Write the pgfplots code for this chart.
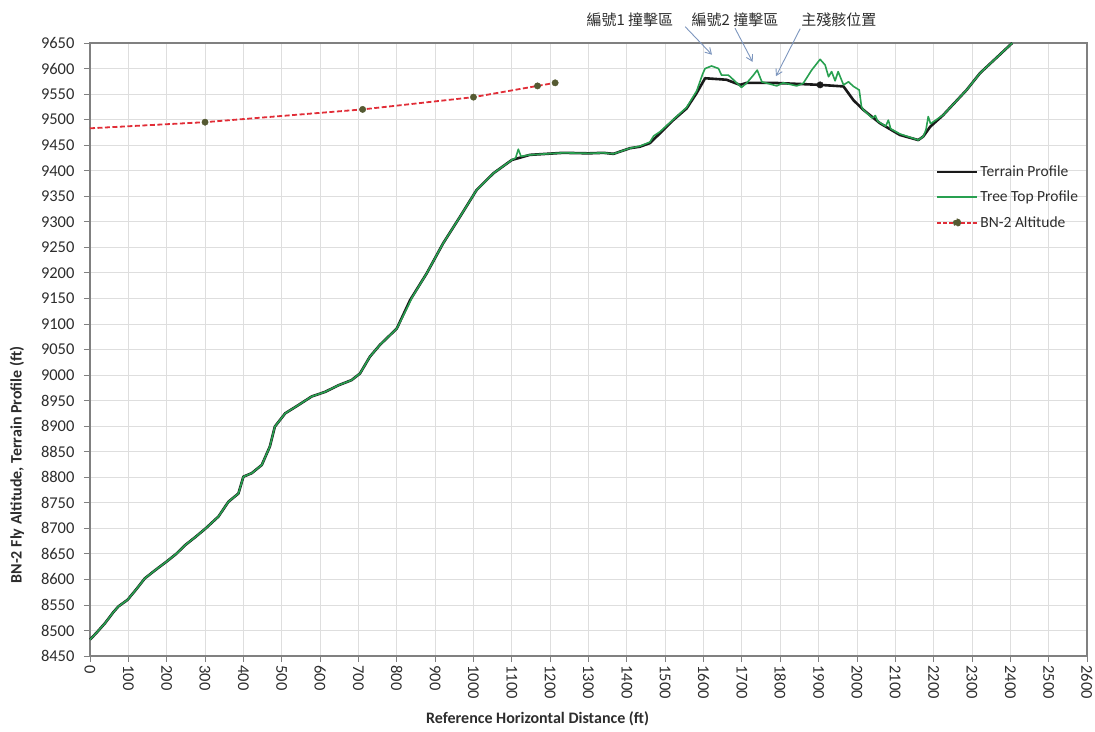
\documentclass[border=0pt]{standalone}
\usepackage{pgfplots}
\pgfplotsset{compat=1.18}
\usepackage{fontspec}
\setmainfont{Carlito}
\newfontfamily\cjk{Noto Sans CJK TC}
\usetikzlibrary{arrows.meta}
\definecolor{terr}{RGB}{25,25,25}
\definecolor{tree}{RGB}{40,160,80}
\definecolor{bnred}{RGB}{225,45,55}
\definecolor{bnmark}{RGB}{85,90,50}
\definecolor{gridc}{RGB}{222,222,222}
\definecolor{frame}{RGB}{128,128,128}
\definecolor{arr}{RGB}{125,150,190}
\definecolor{txt}{RGB}{45,45,45}

\pgfplotstableread{
x y
0 8482
20 8498
40 8515
60 8535
74 8547
98 8560
120 8580
143 8602
170 8618
200 8635
225 8650
248 8667
275 8683
302 8700
335 8723
361 8752
387 8768
400 8801
422 8808
448 8824
469 8860
482 8899
509 8925
543 8941
578 8958
613 8967
648 8980
682 8990
704 9003
730 9036
756 9059
800 9091
835 9147
878 9199
921 9258
965 9310
1008 9362
1052 9395
1100 9421
1147 9431
1234 9435
1300 9434
1339 9435
1365 9433
1408 9444
1434 9447
1460 9454
1486 9473
1521 9499
1556 9522
1582 9552
1604 9581
1643 9579
1660 9578
1695 9568
1713 9572
1782 9572
1904 9568
1965 9565
1991 9538
2017 9519
2060 9493
2112 9470
2160 9460
2173 9467
2191 9486
2225 9509
2286 9558
2321 9591
2405 9650
}\terrain

\pgfplotstableread{
x y
0 8482
20 8498
40 8515
60 8535
74 8547
98 8560
120 8580
143 8602
170 8618
200 8635
225 8650
248 8667
275 8683
302 8700
335 8723
361 8752
387 8768
400 8801
422 8808
448 8824
469 8860
482 8899
509 8925
543 8941
578 8958
613 8967
648 8980
682 8990
704 9003
730 9036
756 9059
800 9091
830 9136
840 9152
878 9199
921 9258
965 9310
1008 9362
1052 9395
1100 9421
1110 9425
1117 9442
1124 9428
1147 9431
1234 9435
1300 9434
1339 9435
1365 9433
1408 9444
1434 9448
1460 9456
1470 9468
1486 9476
1521 9500
1556 9524
1582 9556
1598 9590
1604 9600
1621 9605
1639 9600
1647 9587
1665 9587
1678 9578
1699 9563
1713 9572
1730 9587
1740 9597
1752 9574
1791 9566
1808 9572
1843 9566
1860 9571
1882 9597
1904 9618
1917 9607
1926 9584
1934 9594
1943 9576
1951 9594
1965 9568
1978 9574
1991 9565
2006 9558
2012 9525
2017 9519
2040 9503
2048 9508
2054 9497
2075 9487
2082 9499
2088 9482
2112 9472
2160 9460
2173 9467
2180 9480
2186 9506
2192 9492
2225 9509
2286 9558
2321 9591
2405 9650
}\treetop

\pgfplotstableread{
x y
0 9483
300 9495
711 9520
1000 9544
1167 9566
1213 9572
}\bnalt

\pgfplotstableread{
x y
300 9495
711 9520
1000 9544
1167 9566
1213 9572
}\bnpts

\begin{document}
\begin{tikzpicture}
\begin{axis}[
  at={(0,0)}, anchor=south west,
  scale only axis, width=997pt, height=613pt,
  xmin=0, xmax=2600, ymin=8450, ymax=9650,
  xtick distance=100, ytick distance=50,
  grid=major,
  major grid style={gridc, line width=0.8pt},
  axis line style={frame, line width=1.6pt},
  tick align=outside, major tick length=6pt,
  tick style={frame, line width=0.8pt},
  xtick pos=bottom, ytick pos=left,
  clip=false,
  /pgf/number format/assume math mode=true,
  /pgf/number format/1000 sep={},
  ticklabel style={font=\fontsize{16.5}{18}\selectfont, text=txt},
  xticklabel style={rotate=-90, anchor=west},
  yticklabel style={xshift=-6pt},
  xlabel={Reference Horizontal Distance (ft)},
  ylabel={BN-2 Fly Altitude, Terrain Profile (ft)},
  every axis x label/.style={at={(axis description cs:0.449,-0.1028)}, anchor=center, font=\bfseries\fontsize{16}{18}\selectfont, text=txt},
  every axis y label/.style={at={(axis description cs:-0.0732,0.3116)}, rotate=90, anchor=center, font=\bfseries\fontsize{16}{18}\selectfont, text=txt},
  legend style={at={(axis description cs:0.848,0.803)}, anchor=north west, draw=none, fill=none,
    font=\fontsize{15.5}{17}\selectfont, text=txt, row sep=9pt, inner sep=0pt},
  legend cell align=left,
]
\addplot[terr, line width=2.6pt, line join=round,
  legend image code/.code={\draw[terr, line width=2.8pt] (0pt,0pt) -- (40pt,0pt);}]
  table[x=x,y=y]{\terrain};
\addlegendentry{Terrain Profile}
\addplot[tree, line width=1.6pt, line join=round,
  legend image code/.code={\draw[draw=tree, line width=2.2pt] (0pt,0.5pt) -- (40pt,0.5pt);}]
  table[x=x,y=y]{\treetop};
\addlegendentry{Tree Top Profile}
\addplot[bnred, line width=1.8pt, dash pattern=on 5pt off 2.5pt,
  legend image code/.code={\draw[bnred, line width=1.8pt, dash pattern=on 4pt off 2pt] (0pt,0pt) -- (40pt,0pt); \fill[bnmark] (20pt,0pt) circle (3.2pt);}]
  table[x=x,y=y]{\bnalt};
\addlegendentry{BN-2 Altitude}
\addplot[only marks, mark=*, mark options={fill=bnmark, draw=bnmark, scale=1.6}, forget plot] table[x=x,y=y]{\bnpts};
\addplot[only marks, mark=*, mark options={fill=terr, draw=terr, scale=1.6}, forget plot]
  coordinates {(1904,9568)};
\node[font=\cjk\fontsize{15}{16}\selectfont, text=txt, anchor=center] at (axis cs:1408,9695) {編號1 撞擊區};
\node[font=\cjk\fontsize{15}{16}\selectfont, text=txt, anchor=center] at (axis cs:1682,9695) {編號2 撞擊區};
\node[font=\cjk\fontsize{15}{16}\selectfont, text=txt, anchor=center] at (axis cs:1953,9695) {主殘骸位置};
\draw[arr, line width=0.9pt, -{Straight Barb[length=6pt,width=7pt]}] (axis cs:1552,9682) -- (axis cs:1622,9627);
\draw[arr, line width=0.9pt, -{Straight Barb[length=6pt,width=7pt]}] (axis cs:1682,9679) -- (axis cs:1728,9613);
\draw[arr, line width=0.9pt, -{Straight Barb[length=6pt,width=7pt]}] (axis cs:1852,9678) -- (axis cs:1789,9585);
\end{axis}
\pgfresetboundingbox
\useasboundingbox (-90pt,-75pt) rectangle (1005pt,656pt);
\end{tikzpicture}
\end{document}
